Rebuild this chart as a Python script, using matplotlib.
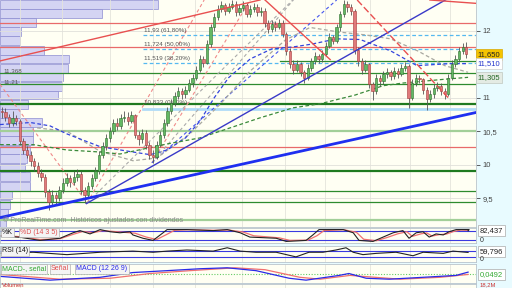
import matplotlib.pyplot as plt

plt.rcParams['font.family'] = ['Liberation Sans', 'DejaVu Sans']

# ---- price data (daily bars) ----
first_open = 10.80
closes = [10.78, 10.72, 10.62, 10.70, 10.66, 10.35, 10.22, 10.15, 10.05, 9.98,
          9.88, 9.82, 9.60, 9.45, 9.55, 9.50, 9.62, 9.72, 9.80, 9.74,
          9.82, 9.86, 9.62, 9.55, 9.68, 9.80, 9.90, 10.15, 10.28, 10.40,
          10.50, 10.62, 10.58, 10.70, 10.72, 10.66, 10.74, 10.45, 10.38, 10.48,
          10.30, 10.15, 10.12, 10.30, 10.45, 10.62, 10.80, 10.92, 11.02, 11.10,
          11.05, 11.12, 11.22, 11.30, 11.42, 11.58, 11.52, 11.80, 12.05, 12.20,
          12.32, 12.38, 12.30, 12.36, 12.40, 12.28, 12.34, 12.38, 12.25, 12.32,
          12.36, 12.28, 12.30, 12.12, 12.02, 12.10, 12.06, 12.12, 11.95, 11.70,
          11.50, 11.42, 11.50, 11.38, 11.30, 11.45, 11.55, 11.62, 11.58, 11.66,
          11.78, 11.90, 11.85, 12.05, 12.25, 12.40, 12.35, 12.30, 11.72, 11.55,
          11.42, 11.50, 11.20, 11.10, 11.30, 11.25, 11.35, 11.38, 11.32, 11.40,
          11.36, 11.44, 11.48, 11.00, 11.22, 11.30, 11.28, 11.12, 10.98, 11.05,
          11.15, 11.18, 11.10, 11.05, 11.30, 11.50, 11.58, 11.70, 11.76, 11.65]
highs = [10.86, 10.84, 10.76, 10.80, 10.74, 10.68, 10.40, 10.28, 10.20, 10.10,
         10.04, 9.94, 9.86, 9.64, 9.62, 9.60, 9.68, 9.80, 9.88, 9.84,
         9.90, 9.94, 9.90, 9.66, 9.74, 9.86, 9.96, 10.20, 10.34, 10.46,
         10.56, 10.68, 10.70, 10.76, 10.80, 10.78, 10.80, 10.76, 10.50, 10.54,
         10.52, 10.34, 10.22, 10.36, 10.50, 10.68, 10.86, 10.98, 11.08, 11.16,
         11.14, 11.18, 11.28, 11.36, 11.48, 11.64, 11.62, 11.86, 12.10, 12.26,
         12.38, 12.44, 12.42, 12.42, 12.46, 12.44, 12.40, 12.44, 12.42, 12.38,
         12.42, 12.40, 12.36, 12.34, 12.16, 12.16, 12.14, 12.18, 12.16, 11.98,
         11.74, 11.56, 11.56, 11.54, 11.42, 11.50, 11.60, 11.68, 11.66, 11.72,
         11.84, 11.96, 11.94, 12.10, 12.30, 12.46, 12.44, 12.40, 12.32, 11.76,
         11.60, 11.56, 11.52, 11.24, 11.36, 11.34, 11.40, 11.44, 11.42, 11.46,
         11.44, 11.50, 11.54, 11.50, 11.28, 11.36, 11.34, 11.30, 11.16, 11.12,
         11.20, 11.24, 11.22, 11.14, 11.36, 11.56, 11.64, 11.76, 11.82, 11.84]
lows = [10.70, 10.66, 10.56, 10.58, 10.60, 10.30, 10.16, 10.10, 9.98, 9.90,
        9.82, 9.76, 9.52, 9.33, 9.40, 9.42, 9.46, 9.58, 9.68, 9.66,
        9.70, 9.76, 9.56, 9.43, 9.50, 9.64, 9.76, 9.86, 10.10, 10.22,
        10.34, 10.46, 10.52, 10.54, 10.64, 10.60, 10.62, 10.40, 10.30, 10.32,
        10.24, 10.08, 10.03, 10.08, 10.26, 10.40, 10.58, 10.76, 10.88, 10.98,
        10.98, 11.00, 11.08, 11.16, 11.26, 11.38, 11.46, 11.50, 11.76, 12.00,
        12.16, 12.28, 12.24, 12.26, 12.32, 12.22, 12.24, 12.30, 12.20, 12.20,
        12.28, 12.22, 12.22, 12.06, 11.96, 11.98, 12.00, 12.02, 11.90, 11.64,
        11.44, 11.36, 11.38, 11.32, 11.22, 11.26, 11.40, 11.50, 11.52, 11.54,
        11.62, 11.74, 11.80, 11.82, 12.00, 12.20, 12.28, 12.24, 11.66, 11.48,
        11.36, 11.38, 11.14, 10.97, 11.06, 11.18, 11.20, 11.30, 11.26, 11.28,
        11.30, 11.32, 11.40, 10.85, 10.96, 11.18, 11.22, 11.06, 10.82, 10.94,
        11.00, 11.10, 11.04, 10.98, 11.02, 11.26, 11.46, 11.54, 11.66, 11.60]
opens = [first_open] + closes[:-1]
n_bars = len(closes)

# volume by price (left histogram)
vp_price = [12.39, 12.26, 12.12, 11.99, 11.85, 11.71, 11.58, 11.44, 11.31, 11.17,
            11.04, 10.90, 10.77, 10.63, 10.50, 10.36, 10.22, 10.09, 9.95, 9.82,
            9.68, 9.55, 9.41, 9.27, 9.14]
vp_volume = [158, 102, 36, 21, 20, 44, 69, 68, 63, 62,
             58, 28, 20, 42, 33, 33, 30, 27, 25, 30,
             30, 12, 10, 8, 6]

# horizontal levels
red_levels = [12.12, 11.76, 10.26]
green_levels = [11.368, 11.21, 9.61, 9.45]
green_thick_levels = [10.91, 9.90]
lightgreen_levels = [10.51, 9.18]
fib_levels = [11.93, 11.724, 11.519]
fib_labels = ['11,93 (61,80%)', '11,724 (50,00%)', '11,519 (38,20%)']
fib_zero = 10.833
fib_start = 39.2
short_green = (77.3, 11.55)

# trend lines: (bar, price) pairs
blue_thick = [(-0.5, 9.21), (131.7, 10.78)]
blue_thin = [(23.5, 9.42), (131.7, 12.72)]
red_lines = [[(-0.5, 11.55), (71.7, 12.46)],
             [(73.1, 12.46), (91.2, 11.57)],
             [(118.9, 12.46), (131.7, 12.41)]]
red_dashed = [(98.7, 12.46), (124.5, 10.97)]

# fan lines (dashed)
fans = [('#f08a8a', [(-0.5, 11.20), (23.7, 9.43)]),
        ('#f08a8a', [(23.7, 9.43), (56.2, 12.46)]),
        ('#aaaaaa', [(23.7, 9.43), (80.8, 12.46)]),
        ('#f08a8a', [(41.7, 10.03), (69.0, 12.46)]),
        ('#aaaaaa', [(41.7, 10.03), (81.0, 12.46)]),
        ('#4455ee', [(41.7, 10.03), (93.0, 12.46)])]

# moving averages (bar, price)
ma_blue = [(-0.5, 10.60), (8, 10.63), (13.4, 10.58), (18.1, 10.46), (27.3, 10.27),
           (36.4, 10.19), (41.2, 10.15), (45.9, 10.22), (51, 10.40), (55, 10.65),
           (59, 11.00), (63, 11.30), (69, 11.58), (75, 11.73), (81, 11.76),
           (86, 11.80), (93, 11.88), (99.5, 11.87), (108, 11.70), (115.3, 11.48),
           (124.5, 11.51), (129.5, 11.51)]
ma_green = [(-0.5, 10.30), (8.7, 10.30), (18.1, 10.22), (27.3, 10.19), (32.8, 10.16),
            (45.9, 10.31), (55, 10.40), (63.4, 10.55), (71.7, 10.70), (80.9, 10.85),
            (88.4, 10.91), (98.1, 11.04), (105.9, 11.18), (111.4, 11.22),
            (123.7, 11.28), (129.5, 11.305)]
ma_gray = [(9.8, 10.55), (18.1, 10.50), (27.3, 10.20), (36.4, 10.06), (43, 10.10),
           (52, 10.45), (60.6, 10.90), (69, 11.40), (78.7, 11.86), (85.6, 12.05),
           (93.9, 11.98), (100.8, 11.94), (108, 11.88), (115.5, 11.70),
           (123, 11.48), (129.5, 11.38)]

grid_idx = [5.1, 16.7, 30.1, 42.0, 53.7, 66.7, 78.7, 89.8, 102.3, 113.4, 124.5]

# oscillators, read at (bar, value)
stoch_k = [(-0.5, 46), (5, 38), (10.6, 16), (16.2, 31), (19.8, 69), (21.7, 84), (24.5, 61),
           (27.3, 91), (30.1, 76), (32.8, 69), (35.6, 76), (36.4, 54), (39.2, 31),
           (42, 16), (44.8, 69), (45.9, 91), (51.4, 91), (58.7, 84), (62.6, 91),
           (66.2, 69), (68.9, 39), (76.2, 31), (79, 9), (84.5, 16), (86.4, 54),
           (88.1, 91), (94.8, 91), (97.6, 69), (99.2, 16), (103.1, 9), (105.9, 39),
           (108.7, 69), (111.4, 84), (113.1, 31), (115.1, 69), (117, 76), (118.7, 39),
           (120.6, 61), (122.6, 54), (124.2, 76), (126.2, 91), (129.8, 91), (129.5, 82.4)]
stoch_d = [(-0.5, 50), (5, 42), (10.6, 22), (16.2, 28), (19.8, 58), (22.5, 78), (25.5, 70),
           (28, 84), (31, 78), (34, 72), (37, 66), (40, 40), (43, 22), (46, 60),
           (48, 86), (52, 90), (59, 86), (63, 88), (67, 74), (70, 48), (77, 34),
           (80, 16), (85, 18), (87.5, 48), (89.5, 84), (95, 90), (98.5, 72),
           (100.5, 24), (104, 14), (107, 36), (110, 62), (112.5, 76), (114, 44),
           (116.5, 62), (118, 68), (119.5, 46), (121.5, 56), (123.5, 60),
           (125.5, 78), (127.5, 88), (129.5, 86)]
rsi = [(-0.5, 55), (8.7, 61), (18.1, 46), (27.3, 61), (36.4, 68), (42, 61), (45.9, 68),
       (51.4, 75), (58.7, 68), (62.6, 89), (66.2, 68), (70.6, 61), (76.2, 61),
       (81.7, 32), (85.3, 61), (89.2, 61), (92.8, 75), (95.6, 89), (97.6, 61),
       (100.3, 46), (104, 54), (109.5, 61), (114.2, 39), (117, 61), (122.6, 54),
       (125.3, 68), (129.5, 59.8)]
macd = [(-0.5, -0.04), (13.4, -0.12), (27.3, -0.06), (36.4, 0.04), (45.9, 0.08),
        (55, 0.12), (62.6, 0.14), (70.6, 0.08), (79.8, -0.08), (84.5, -0.12),
        (93.7, -0.02), (96.4, 0.02), (101.2, -0.08), (107.6, -0.10),
        (117, -0.06), (126.2, -0.02), (129.5, 0.049)]
signal = [(-0.5, 0.0), (16.2, -0.10), (30.1, -0.08), (41.2, 0.02), (52.3, 0.08),
          (64.8, 0.14), (73.1, 0.10), (82.8, -0.06), (88.4, -0.10), (96.7, -0.02),
          (103.7, -0.06), (110.6, -0.10), (121.7, -0.06), (129.5, 0.0)]

BG = '#fffff3'
FIG_BG = '#e8fbff'
XLIM = (-0.5, 131.7)


def xy(pts):
    return [p[0] for p in pts], [p[1] for p in pts]


fig = plt.figure(figsize=(5.12, 2.88), dpi=100, facecolor=FIG_BG)
W = 476 / 512


def panel(top, bottom):
    a = fig.add_axes([0, 1 - bottom / 288, W, (bottom - top) / 288])
    a.set_facecolor(BG)
    a.set_xlim(*XLIM)
    a.set_xticks([])
    for s in a.spines.values():
        s.set_color('#b8c4cc')
        s.set_linewidth(0.6)
    for g in grid_idx:
        a.axvline(g, color='#e4e4dc', lw=0.6, zorder=0)
    return a


# ---- main price chart ----
ax = panel(0, 227)
ax.set_ylim(9.07, 12.46)
ax.spines['left'].set_visible(False)
ax.spines['top'].set_visible(False)
for lv in [9.5, 10, 10.5, 11, 12]:
    ax.axhline(lv, color='#e0e0da', lw=0.6, zorder=0)

# volume profile on a twin x axis
vax = ax.twiny()
vax.set_xlim(0, 476)
vax.set_xticks([])
vax.axis('off')
vax.barh(vp_price, vp_volume, height=0.13, left=0, color='#cdcdf4',
         edgecolor='#8f8fd2', linewidth=0.6, alpha=0.85, zorder=1)
vax.set_ylim(9.07, 12.46)
ax.set_zorder(vax.get_zorder() + 1)
ax.patch.set_visible(False)
fig.patches.append(plt.Rectangle((0, 1 - 227 / 288), W, 227 / 288,
                                 transform=fig.transFigure, color=BG, zorder=-5))

ax.text(0.5, 11.40, '11,368', fontsize=4.5, color='#555555', va='center', zorder=6)
ax.text(0.5, 11.24, '11,21', fontsize=4.5, color='#555555', va='center', zorder=6)

for lv in red_levels:
    ax.axhline(lv, color='#e86a6a', lw=0.9, zorder=2)
for lv in green_levels:
    ax.axhline(lv, color='#2e8b2e', lw=0.9, zorder=2)
for lv in green_thick_levels:
    ax.axhline(lv, color='#1f7a1f', lw=1.6, zorder=2)
for lv in lightgreen_levels:
    ax.axhline(lv, color='#a2cf98', lw=1.6, zorder=2)
ax.plot([short_green[0], XLIM[1]], [short_green[1]] * 2, color='#2e8b2e', lw=0.9, zorder=2)

for lv, lab in zip(fib_levels, fib_labels):
    ax.plot([fib_start, XLIM[1]], [lv, lv], color='#55b8f0', lw=0.9, ls=(0, (3, 2)), zorder=2)
    ax.text(fib_start + 0.2, lv + 0.03, lab, fontsize=4.5, color='#555555', va='bottom')
ax.plot([fib_start, XLIM[1]], [fib_zero, fib_zero], color='#b0dcf8', lw=2.0, zorder=2)
ax.text(fib_start + 0.2, fib_zero + 0.06, '10,833 (0,00%)', fontsize=4.5,
        color='#555555', va='bottom')

# dashed fan lines and moving averages
for col, pts in fans:
    ax.plot(*xy(pts), color=col, lw=0.8, ls=(0, (3, 2.5)), zorder=2)
ax.plot(*xy(ma_gray), color='#a8a8a0', lw=0.9, ls=(0, (3, 2)), zorder=2)
ax.plot(*xy(ma_blue), color='#3344dd', lw=0.9, ls=(0, (3, 2)), zorder=2)
ax.plot(*xy(ma_green), color='#3a8a3a', lw=0.9, ls=(0, (3, 2)), zorder=2)

# candles
up_col = ['#63b863' if c >= o else '#e07a7a' for o, c in zip(opens, closes)]
edge_col = ['#2d6e2d' if c >= o else '#a33a3a' for o, c in zip(opens, closes)]
ax.vlines(range(n_bars), lows, highs, color='#555555', lw=0.6, zorder=3)
ax.bar(range(n_bars), [c - o for o, c in zip(opens, closes)], bottom=opens, width=0.65,
       color=up_col, edgecolor=edge_col, linewidth=0.4, zorder=3)

# trend lines
ax.plot(*xy(blue_thick), color='#1f2ff0', lw=2.0, zorder=4)
ax.plot(*xy(blue_thin), color='#3a3ac8', lw=1.0, zorder=4)
for pts in red_lines:
    ax.plot(*xy(pts), color='#e85050', lw=1.0, zorder=4)
ax.plot(*xy(red_dashed), color='#e85050', lw=1.0, ls=(0, (5, 2)), zorder=4)

ax.text(0.3, 9.12, '\u00a9 ProRealTime.com  Hist\u00f3ricos ajustados con dividendos',
        fontsize=5, color='#888888', va='bottom', zorder=5)

ax.yaxis.tick_right()
ax.set_yticks([9.5, 10, 10.5, 11, 12])
ax.set_yticklabels(['9,5', '10', '10,5', '11', '12'])
ax.tick_params(axis='y', labelsize=5.5, colors='#444444', length=3, width=0.6, pad=2)

box = dict(boxstyle='square,pad=0.25', linewidth=0.5)
ax.text(1.004, 11.65, '11,650', transform=ax.get_yaxis_transform(), fontsize=5.5,
        color='#222222', va='center', bbox={**box, 'fc': '#f5c400', 'ec': '#d8a800'})
ax.text(1.004, 11.51, '11,510', transform=ax.get_yaxis_transform(), fontsize=5.5,
        color='#2233cc', va='center', bbox={**box, 'fc': '#ffffff', 'ec': '#cccccc'})
ax.text(1.004, 11.305, '11,305', transform=ax.get_yaxis_transform(), fontsize=5.5,
        color='#226622', va='center', bbox={**box, 'fc': '#e4ebe4', 'ec': '#c0c8c0'})


def label_box(a, x, text, color):
    return a.text(x, 0.93, text, transform=a.transAxes, fontsize=5, color=color,
                  va='top', ha='left', zorder=6,
                  bbox=dict(boxstyle='square,pad=0.2', fc='#f4f4f4', ec='#b0b0b0', lw=0.5))


def value_box(a, y, text, color):
    a.text(1.008, y, text, transform=a.get_yaxis_transform(), fontsize=5.5, color=color,
           va='center', bbox=dict(boxstyle='square,pad=0.25', fc='#ffffff', ec='#aaaaaa', lw=0.5))


# ---- stochastic ----
sx = panel(228, 243)
sx.set_ylim(-2, 102)
sx.set_yticks([])
for lv in [20, 80]:
    sx.axhline(lv, color='#3a3ae0', lw=0.8)
sx.plot(*xy(stoch_d), color='#f07070', lw=0.9)
sx.plot(*xy(stoch_k), color='#222222', lw=0.8)
label_box(sx, 0.004, '%K', '#111111')
label_box(sx, 0.042, '%D (14 3 5)', '#e05050')
value_box(sx, 82.4, '82,437', '#222222')
sx.text(1.008, 12, '0', transform=sx.get_yaxis_transform(), fontsize=5, color='#333333', va='center')

# ---- RSI ----
rx = panel(246, 262)
rx.set_ylim(0, 100)
rx.set_yticks([])
for lv in [30, 70]:
    rx.axhline(lv, color='#3a3ae0', lw=0.8)
rx.plot(*xy(rsi), color='#222222', lw=0.8)
label_box(rx, 0.004, 'RSI (14)', '#111111')
value_box(rx, 66, '59,796', '#222222')
rx.text(1.008, 14, '0', transform=rx.get_yaxis_transform(), fontsize=5, color='#333333', va='center')

# ---- MACD ----
mx = panel(264, 283)
mx.set_ylim(-0.18, 0.22)
mx.set_yticks([])
mx.axhline(0, color='#66cc66', lw=0.8, ls=(0, (1, 1.5)))
mx.plot(*xy(signal), color='#f07070', lw=0.9)
mx.plot(*xy(macd), color='#2a2ae8', lw=0.9)
label_box(mx, 0.004, 'MACD-, se\u00f1al', '#33aa33')
label_box(mx, 0.107, 'Se\u00f1al', '#e05050')
label_box(mx, 0.16, 'MACD (12 26 9)', '#2a2ae8')
value_box(mx, 0.0, '0,0492', '#33aa33')

# ---- volume (only its top edge shows) ----
vx = panel(284, 290)
vx.set_yticks([])
fig.text(0.004, 0.001, 'Volumen', fontsize=4.2, color='#cc3333', va='bottom')
fig.text(0.937, 0.001, '18,2M', fontsize=4.2, color='#cc3333', va='bottom')

fig.savefig('out.png', dpi=100, facecolor=FIG_BG)
